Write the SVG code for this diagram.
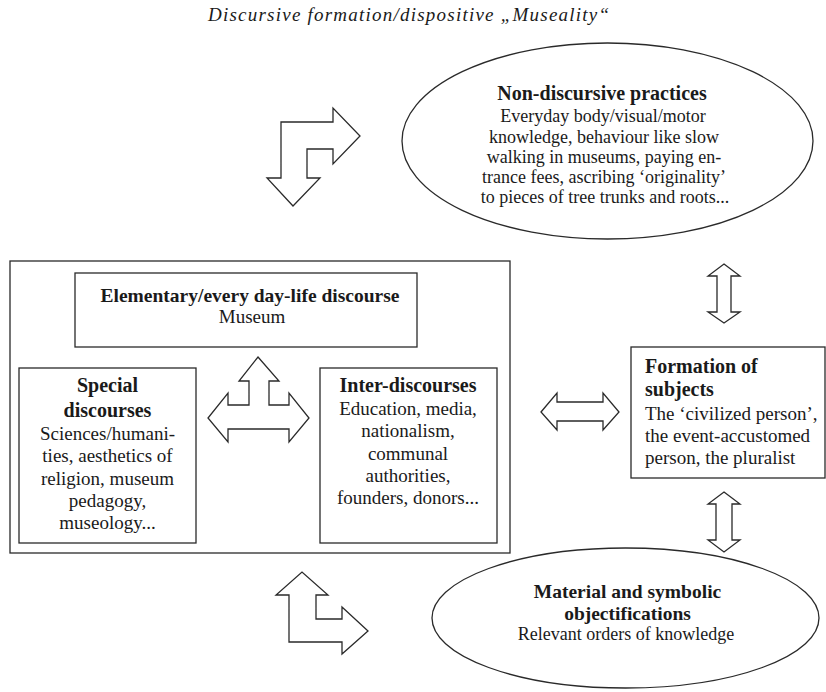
<svg xmlns="http://www.w3.org/2000/svg" width="826" height="692" viewBox="0 0 826 692">
<style>
  .box { fill: #ffffff; stroke: #2a2a2a; stroke-width: 1.3; }
  .arr { fill: #ffffff; stroke: #2a2a2a; stroke-width: 1.3; stroke-linejoin: miter; }
  text { font-family: "Liberation Serif", "Times New Roman", serif; fill: #1a1a1a; }
  .t { font-size: 19px; font-style: italic; }
  .b { font-size: 20px; font-weight: bold; }
  .r { font-size: 19px; }
  .re { font-size: 18px; }
  .c { text-anchor: middle; }
</style>
<rect width="826" height="692" fill="#ffffff"/>
<text class="t" x="208" y="21" textLength="401" lengthAdjust="spacing">Discursive formation/dispositive „Museality“</text>

<g id="outer-formation">
  <rect class="box" x="10" y="261" width="500" height="292"/>
</g>

<g id="elementary">
  <rect class="box" x="75" y="273" width="342" height="74"/>
  <text class="b c" x="250" y="302" style="font-size:19.5px">Elementary/every day-life discourse</text>
  <text class="r c" x="252" y="323">Museum</text>
</g>

<g id="special">
  <rect class="box" x="19" y="368" width="177" height="175"/>
  <text class="b c" x="107.5" y="392">Special</text>
  <text class="b c" x="107.5" y="417">discourses</text>
  <text class="r c" x="107.5" y="440">Sciences/humani-</text>
  <text class="r c" x="107.5" y="462">ties, aesthetics of</text>
  <text class="r c" x="107.5" y="485">religion, museum</text>
  <text class="r c" x="107.5" y="507">pedagogy,</text>
  <text class="r c" x="107.5" y="529">museology...</text>
</g>

<g id="inter">
  <rect class="box" x="320" y="368" width="177" height="175"/>
  <text class="b c" x="408" y="392">Inter-discourses</text>
  <text class="r c" x="408" y="415">Education, media,</text>
  <text class="r c" x="408" y="437">nationalism,</text>
  <text class="r c" x="408" y="460">communal</text>
  <text class="r c" x="408" y="482">authorities,</text>
  <text class="r c" x="408" y="504">founders,  donors...</text>
</g>

<g id="non-discursive">
  <ellipse class="box" cx="607.5" cy="141" rx="205.5" ry="98"/>
  <text class="b c" x="602" y="100">Non-discursive practices</text>
  <text class="re c" x="603" y="122">Everyday body/visual/motor</text>
  <text class="re c" x="604" y="143">knowledge, behaviour like slow</text>
  <text class="re c" x="604" y="163">walking in museums, paying en-</text>
  <text class="re c" x="604" y="183">trance fees, ascribing ‘originality’</text>
  <text class="re c" x="605" y="203">to pieces of tree trunks and roots...</text>
</g>

<g id="subjects">
  <rect class="box" x="631" y="347" width="194" height="131"/>
  <text class="b" x="645" y="373">Formation of</text>
  <text class="b" x="645" y="396">subjects</text>
  <text class="r" x="645" y="420">The ‘civilized person’,</text>
  <text class="r" x="645" y="442">the event-accustomed</text>
  <text class="r" x="645" y="464">person, the pluralist</text>
</g>

<g id="objectifications">
  <ellipse class="box" cx="625.5" cy="618" rx="193.5" ry="70"/>
  <text class="b c" x="627.5" y="598" style="font-size:19.5px">Material and symbolic</text>
  <text class="b c" x="627.5" y="620" style="font-size:19.5px">objectifications</text>
  <text class="re c" x="626" y="640">Relevant orders of knowledge</text>
</g>

<g id="connectors">
  <path class="arr" d="M281,178 L267,178 L293,206 L320,178 L307,178 L307,149 L333,149 L333,164 L360,136 L333,108 L333,122 L281,122 Z"/>
  <path class="arr" d="M289,595 L276,595 L302,572 L328,595 L316,595 L316,619 L342,619 L342,607 L368,631 L342,654 L342,642 L289,642 Z"/>
  <path class="arr" d="M258,357 L279,381 L269,381 L269,405 L289,405 L289,393 L309,418 L289,442 L289,429 L228,429 L228,442 L208,418 L228,393 L228,405 L249,405 L249,381 L239,381 Z"/>
  <path class="arr" d="M541,412 L557,393 L557,402 L603,402 L603,393 L619,412 L603,430 L603,421 L557,421 L557,430 Z"/>
  <path class="arr" d="M724,264 L740,276 L731,276 L731,312 L740,312 L724,323 L708,312 L717,312 L717,276 L708,276 Z"/>
  <path class="arr" d="M724,492 L740,504 L732,504 L732,540 L740,540 L724,552 L708,540 L716,540 L716,504 L708,504 Z"/>
</g>
</svg>
